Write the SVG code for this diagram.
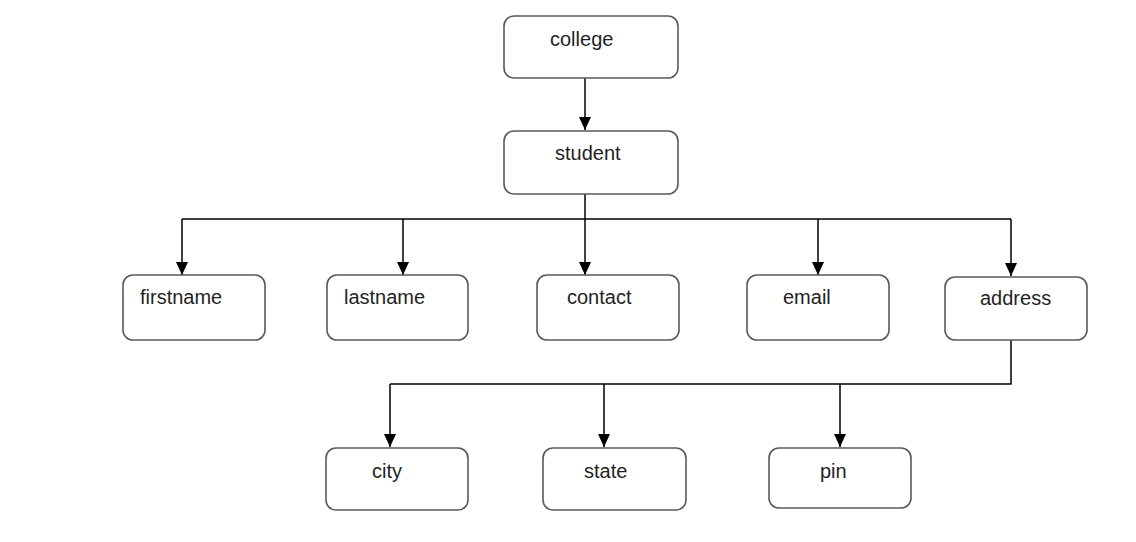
<svg xmlns="http://www.w3.org/2000/svg" width="1136" height="542" viewBox="0 0 1136 542">
<style>
.box{fill:#fff;stroke:#595959;stroke-width:1.6}
.lbl{font-family:"Liberation Sans",Arial,sans-serif;font-size:20px;fill:#1f1f1f}
.con{fill:none;stroke:#000;stroke-width:1.5}
</style>
<defs>
<marker id="ah" markerUnits="userSpaceOnUse" markerWidth="13" markerHeight="12" refX="13" refY="6" orient="auto" viewBox="0 0 13 12">
<path d="M0,0 L13,6 L0,12 Z" fill="#000"/>
</marker>
</defs>
<rect width="1136" height="542" fill="#fff"/>
<g id="connectors">
<path class="con" d="M585,78 V130" marker-end="url(#ah)"/>
<path class="con" d="M585,194 V219"/>
<path class="con" d="M182,219 H1011"/>
<path class="con" d="M182,219 V275" marker-end="url(#ah)"/>
<path class="con" d="M403,219 V275" marker-end="url(#ah)"/>
<path class="con" d="M585,219 V275" marker-end="url(#ah)"/>
<path class="con" d="M818,219 V275" marker-end="url(#ah)"/>
<path class="con" d="M1011,219 V276" marker-end="url(#ah)"/>
<path class="con" d="M1011,340 V384 H390"/>
<path class="con" d="M390,384 V447" marker-end="url(#ah)"/>
<path class="con" d="M604,384 V447" marker-end="url(#ah)"/>
<path class="con" d="M840,384 V447" marker-end="url(#ah)"/>
</g>
<g id="college"><rect class="box" x="504" y="16" width="174" height="62" rx="10"/><text class="lbl" x="550" y="46">college</text></g>
<g id="student"><rect class="box" x="504" y="131" width="174" height="63" rx="10"/><text class="lbl" x="555" y="160">student</text></g>
<g id="firstname"><rect class="box" x="123" y="275" width="142" height="65" rx="10"/><text class="lbl" x="140" y="304">firstname</text></g>
<g id="lastname"><rect class="box" x="327" y="275" width="141" height="65" rx="10"/><text class="lbl" x="344" y="304">lastname</text></g>
<g id="contact"><rect class="box" x="537" y="275" width="142" height="65" rx="10"/><text class="lbl" x="567" y="304">contact</text></g>
<g id="email"><rect class="box" x="747" y="275" width="142" height="65" rx="10"/><text class="lbl" x="783" y="304">email</text></g>
<g id="address"><rect class="box" x="945" y="277" width="142" height="63" rx="10"/><text class="lbl" x="980" y="305">address</text></g>
<g id="city"><rect class="box" x="326" y="448" width="142" height="62" rx="10"/><text class="lbl" x="372" y="478">city</text></g>
<g id="state"><rect class="box" x="543" y="448" width="143" height="62" rx="10"/><text class="lbl" x="584" y="478">state</text></g>
<g id="pin"><rect class="box" x="769" y="448" width="142" height="60" rx="10"/><text class="lbl" x="820" y="478">pin</text></g>
</svg>
